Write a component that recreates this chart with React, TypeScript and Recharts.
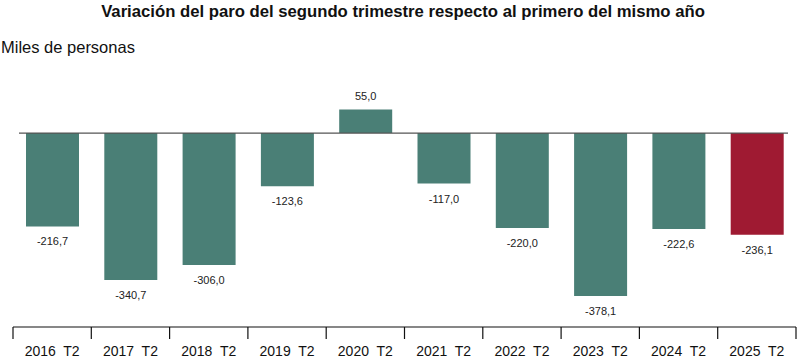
import React from 'react';
import { BarChart, Bar, XAxis, YAxis, ReferenceLine, LabelList, Cell } from 'recharts';

const categories = ['2016  T2', '2017  T2', '2018  T2', '2019  T2', '2020  T2', '2021  T2', '2022  T2', '2023  T2', '2024  T2', '2025  T2'];
const values = [-216.7, -340.7, -306.0, -123.6, 55.0, -117.0, -220.0, -378.1, -222.6, -236.1];
const highlightIndex = 9;

const data = categories.map((c, i) => ({ name: c, value: values[i] }));

const TEAL = '#4a7f76';
const RED = '#9f1a32';
const FONT = '"Liberation Sans", Arial, sans-serif';

const fmt = (v: number) => v.toFixed(1).replace('.', ',');

const CustomTick = (props: any) => {
  const { x, y, payload, index, visibleTicksCount } = props;
  const off = payload && typeof payload.offset === 'number' && payload.offset > 0 ? payload.offset : 39.15;
  const last = index === (visibleTicksCount ?? categories.length) - 1;
  return (
    <g>
      <line x1={x - off} x2={x - off} y1={y} y2={y + 12} stroke="#111" strokeWidth={1.2} />
      {last && <line x1={x + off} x2={x + off} y1={y} y2={y + 12} stroke="#111" strokeWidth={1.2} />}
      <text x={x} y={y + 29} textAnchor="middle" fontSize={14} fill="#111" fontFamily={FONT} style={{ whiteSpace: 'pre' }}>
        {payload.value}
      </text>
    </g>
  );
};

const ValueLabel = (props: any) => {
  const { x, y, width, height, value } = props;
  const cx = x + width / 2;
  const neg = value < 0;
  const ty = neg ? Math.max(y, y + height) + 19 : Math.min(y, y + height) - 9;
  return (
    <text x={cx} y={ty} textAnchor="middle" fontSize={11} fill="#222" fontFamily={FONT}>
      {fmt(value)}
    </text>
  );
};

const ZeroLine = (props: any) => {
  const { x1, x2, y1, y2 } = props;
  return <line x1={x1 + 6} x2={x2 - 8} y1={y1} y2={y2} stroke="#555" strokeWidth={1.3} />;
};

export default function App() {
  return (
    <div style={{ position: 'absolute', left: 0, top: 0, width: 808, height: 359, background: '#fff', overflow: 'hidden' }}>
      <BarChart width={808} height={359} data={data} margin={{ top: 90, right: 12, bottom: 0, left: 13 }}>
        <YAxis hide domain={[-450, 100]} type="number" />
        <XAxis
          dataKey="name"
          height={32}
          axisLine={{ stroke: '#111', strokeWidth: 1.2 }}
          tickLine={false}
          tickSize={0}
          tickMargin={0}
          interval={0}
          tick={<CustomTick />}
        />
        <Bar dataKey="value" barSize={53} isAnimationActive={false}>
          {data.map((d, i) => (
            <Cell key={i} fill={i === highlightIndex ? RED : TEAL} />
          ))}
          <LabelList dataKey="value" content={<ValueLabel />} />
        </Bar>
        <ReferenceLine y={0} shape={<ZeroLine />} />
      </BarChart>
      <svg width={808} height={60} style={{ position: 'absolute', left: 0, top: 0, pointerEvents: 'none' }}>
        <text x={403} y={17} textAnchor="middle" fontSize={16.7} fontWeight="bold" fill="#111" fontFamily={FONT}>
          Variación del paro del segundo trimestre respecto al primero del mismo año
        </text>
        <text x={1} y={53} fontSize={16.5} fill="#111" fontFamily={FONT}>
          Miles de personas
        </text>
      </svg>
    </div>
  );
}
